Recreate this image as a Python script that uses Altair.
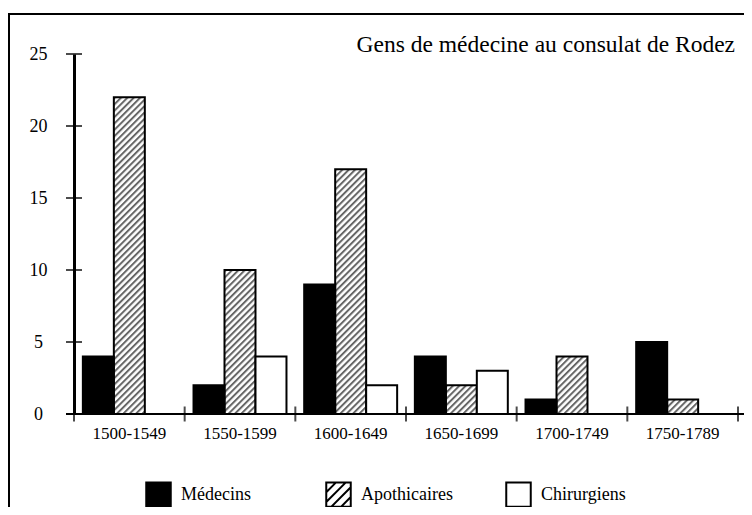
import altair as alt
import pandas as pd
from urllib.parse import quote

# ---- data ----
periods = ["1500-1549", "1550-1599", "1600-1649", "1650-1699", "1700-1749", "1750-1789"]
series = ["Médecins", "Apothicaires", "Chirurgiens"]
medecins = [4, 2, 9, 4, 1, 5]
apothicaires = [22, 10, 17, 2, 4, 1]
chirurgiens = [0, 4, 2, 3, 0, 0]
y_ticks = [0, 5, 10, 15, 20, 25]
title_text = "Gens de médecine au consulat de Rodez"

rows = []
for i, p in enumerate(periods):
    for s, vals in zip(series, [medecins, apothicaires, chirurgiens]):
        rows.append({"période": p, "série": s, "nombre": vals[i]})
df = pd.DataFrame(rows)
df_hatch = df[df["série"] == "Apothicaires"]
df_yticks = pd.DataFrame({"nombre": y_ticks})
df_sep = pd.DataFrame({"limite": list(range(len(periods) + 1))})
df_one = pd.DataFrame({"k": [0]})

# ---- style ----
W, H = 664, 360
FONT = "Liberation Serif"

hatch_svg = (
    '<svg xmlns="http://www.w3.org/2000/svg" width="100%" height="100%">'
    '<defs><pattern id="h" width="4.5" height="4.5" patternUnits="userSpaceOnUse" '
    'patternTransform="rotate(45)">'
    '<rect width="4.5" height="4.5" fill="white"/>'
    '<rect width="2" height="4.5" fill="#666666"/></pattern></defs>'
    '<rect width="100%" height="100%" fill="url(#h)"/></svg>'
)
hatch_uri = "data:image/svg+xml;charset=utf-8," + quote(hatch_svg)

hatch_path = ("M-1,-1H1V1H-1Z M-1,-0.2L-0.2,-1 M-1,0.6L0.6,-1 "
              "M-0.6,1L1,-0.6 M0.2,1L1,0.2")


def x_enc(show_axis):
    axis = alt.Axis(title=None, labelAngle=0, labelFont=FONT, labelFontSize=17,
                    labelColor="black", domain=False, ticks=False, tickSize=0,
                    labelPadding=11) if show_axis else None
    return alt.X("période:N", sort=periods,
                 scale=alt.Scale(domain=periods, paddingInner=0.16, paddingOuter=0.08),
                 axis=axis)


xoff_enc = alt.XOffset("série:N", sort=series, scale=alt.Scale(domain=series))
y_enc = alt.Y(
    "nombre:Q", scale=alt.Scale(domain=[0, 25], nice=False),
    axis=alt.Axis(title=None, values=y_ticks, grid=False, ticks=False, tickSize=0,
                  labelPadding=36, labelAlign="center", labelFont=FONT,
                  labelFontSize=18, labelColor="black", domainColor="black",
                  domainWidth=3),
)
# bar fill scale (listed in another order so it stays separate from the legend scales)
bar_domain = ["Apothicaires", "Chirurgiens", "Médecins"]
bar_colors = ["transparent", "white", "black"]
legend_fills = ["black", "transparent", "white"]
legend_strokes = ["black", "black", "black"]
legend_props = dict(
    title=None, orient="none", legendX=71, legendY=427, direction="horizontal",
    columns=3, gridAlign="all", columnPadding=49, symbolSize=600,
    symbolStrokeColor="black", symbolStrokeWidth=2, symbolOpacity=1,
    labelFont=FONT, labelFontSize=18, labelColor="black", labelOffset=9,
)

hatch = alt.Chart(df_hatch).mark_image(aspect=False).encode(
    x=x_enc(False), xOffset=xoff_enc, y=y_enc, url=alt.value(hatch_uri)
)

bars = alt.Chart(df).mark_bar(stroke="black", strokeWidth=2).encode(
    x=x_enc(True), xOffset=xoff_enc, y=y_enc,
    color=alt.Color("série:N", scale=alt.Scale(domain=bar_domain, range=bar_colors), legend=None),
)

legend_pts = alt.Chart(df).mark_point(opacity=0, filled=True, strokeWidth=2).encode(
    x=x_enc(False), xOffset=xoff_enc, y=y_enc,
    fill=alt.Fill("série:N", scale=alt.Scale(domain=series, range=legend_fills),
                  legend=alt.Legend(**legend_props)),
    stroke=alt.Stroke("série:N", scale=alt.Scale(domain=series, range=legend_strokes),
                      legend=alt.Legend(**legend_props)),
    shape=alt.Shape("série:N", scale=alt.Scale(domain=series, range=["square", hatch_path, "square"]),
                    legend=alt.Legend(**legend_props)),
)

yticks = alt.Chart(df_yticks).mark_tick(color="black", thickness=2, size=16, orient="horizontal").encode(
    y=y_enc, x=alt.value(0)
)

sep = alt.Chart(df_sep).mark_tick(color="black", thickness=2, size=15, orient="vertical").encode(
    x=alt.X("limite:Q", scale=alt.Scale(domain=[0, len(periods)], nice=False), axis=None),
    y=alt.value(H),
)

xline = alt.Chart(df_one).mark_rule(color="black", strokeWidth=2).encode(
    x=alt.value(-8), x2=alt.value(W + 8), y=alt.value(H)
)

frame = alt.Chart(df_one).mark_rect(fill="transparent", stroke="black", strokeWidth=2).encode(
    x=alt.value(-65), x2=alt.value(W + 100), y=alt.value(-40), y2=alt.value(H + 200)
)

chart = alt.layer(hatch, bars, legend_pts, yticks, sep, xline, frame).resolve_scale(
    x="independent"
).properties(
    width=W, height=H,
    title=alt.TitleParams(title_text, anchor="end", frame="group", font=FONT, fontSize=23.5,
                          fontWeight="normal", color="black", offset=-43, dx=-3),
    autosize=alt.AutoSizeParams(type="none"),
    padding={"left": 66, "top": 46, "right": 6, "bottom": 93},
    background="white",
).configure_view(stroke=None)

chart.save("out.html", embed_options={"renderer": "svg", "actions": False})
